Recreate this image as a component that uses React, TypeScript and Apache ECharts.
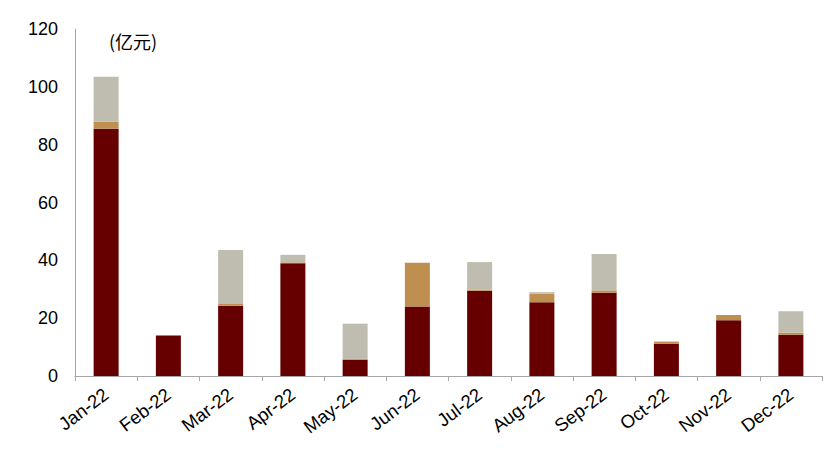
import React, { useEffect, useRef } from "react";
import * as echarts from "echarts";

const categories = ["Jan-22", "Feb-22", "Mar-22", "Apr-22", "May-22", "Jun-22", "Jul-22", "Aug-22", "Sep-22", "Oct-22", "Nov-22", "Dec-22"];
const seriesA = [85.5, 14, 24.3, 39, 5.6, 24, 29.5, 25.5, 28.8, 11.1, 19.3, 14.2];
const seriesB = [2.5, 0, 0.6, 0.3, 0.3, 15.2, 0.3, 3, 0.8, 0.8, 1.8, 0.8];
const seriesC = [15.5, 0, 18.7, 2.6, 12.2, 0, 9.6, 0.5, 12.6, 0, 0, 7.4];
const unitLabel = "(亿元)";

export default function App() {
  const ref = useRef<HTMLDivElement>(null);
  useEffect(() => {
    if (!ref.current) return;
    const chart = echarts.init(ref.current, null, { renderer: "svg" });
    const font = "Liberation Sans, Arial, sans-serif";
    chart.setOption({
      animation: false,
      backgroundColor: "#ffffff",
      grid: { left: 75, right: 4, top: 29, bottom: 78 },
      xAxis: {
        type: "category",
        data: categories,
        axisLine: { lineStyle: { color: "#a6a6a6", width: 1 } },
        axisTick: { show: true, length: 5, lineStyle: { color: "#a6a6a6" } },
        axisLabel: { rotate: 37, color: "#000", fontSize: 18.5, fontFamily: font, margin: 16 },
      },
      yAxis: {
        type: "value",
        min: 0,
        max: 120,
        interval: 20,
        splitLine: { show: false },
        axisLine: { show: true, lineStyle: { color: "#a6a6a6", width: 1 } },
        axisTick: { show: false },
        axisLabel: { color: "#000", fontSize: 18, fontFamily: font, margin: 17 },
      },
      graphic: [
        { type: "text", left: 109, top: 32, style: { text: unitLabel, fontSize: 18, fill: "#000", fontFamily: "Noto Sans CJK SC, sans-serif" } },
      ],
      series: [
        { type: "bar", stack: "s", data: seriesA, barWidth: 25, itemStyle: { color: "#660000" } },
        { type: "bar", stack: "s", data: seriesB, barWidth: 25, itemStyle: { color: "#bf8f50" } },
        { type: "bar", stack: "s", data: seriesC, barWidth: 25, itemStyle: { color: "#bfbdb0" } },
      ],
    });
    return () => chart.dispose();
  }, []);
  return <div ref={ref} style={{ position: "fixed", left: 0, top: 0, width: 826, height: 454 }} />;
}
